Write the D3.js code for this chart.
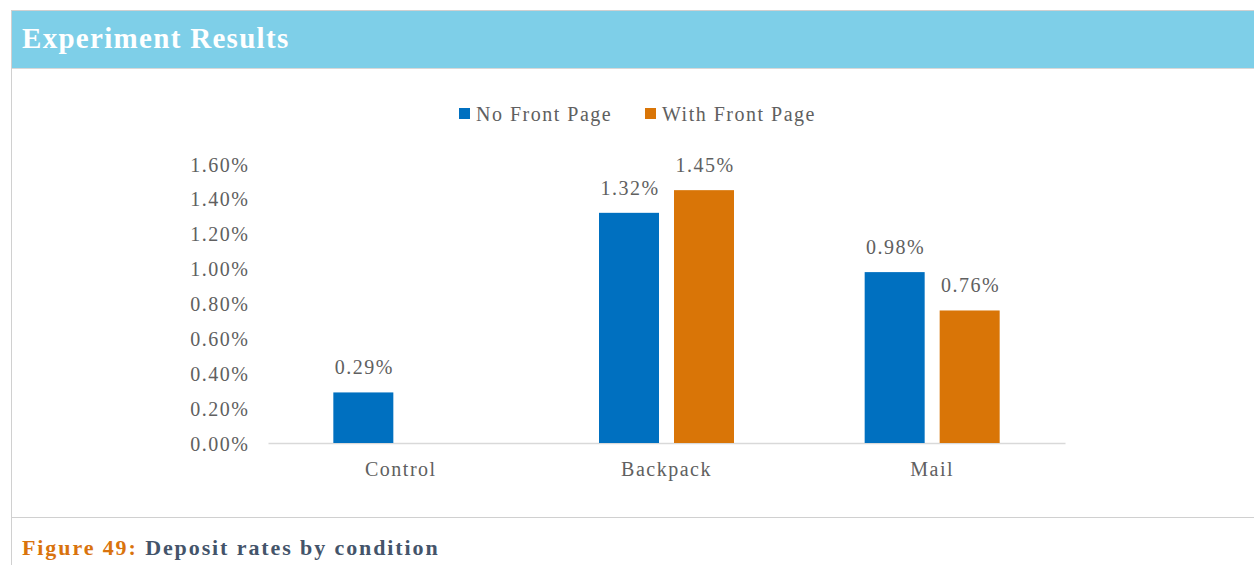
<!DOCTYPE html>
<html>
<head>
<meta charset="utf-8">
<script src="https://cdn.jsdelivr.net/npm/d3@7"></script>
<style>
  html, body { margin: 0; padding: 0; background: #fff; }
  svg { display: block; }
</style>
</head>
<body>
<svg id="chart" width="1254" height="565"></svg>
<script>
// Deposit rates (%) by condition and front-page variant
const categories = ["Control", "Backpack", "Mail"];
const seriesNames = ["No Front Page", "With Front Page"];
const noFrontPage = [0.29, 1.32, 0.98];
const withFrontPage = [null, 1.45, 0.76];
const yTicks = [0, 0.2, 0.4, 0.6, 0.8, 1.0, 1.2, 1.4, 1.6];
const colors = ["#0070c0", "#d97507"];

const svg = d3.select("#chart");
const W = 1254, H = 565;
const serif = "'Liberation Serif', 'DejaVu Serif', serif";
const textGray = "#606060";
const labelSize = 20, labelSpacing = 1.5;

// Panel frame: header band, left rule, bottom rule
svg.append("rect").attr("x", 11).attr("y", 10).attr("width", W - 11).attr("height", 58)
  .attr("fill", "#7ecfe8");
svg.append("line").attr("x1", 11).attr("x2", W).attr("y1", 10.5).attr("y2", 10.5)
  .attr("stroke", "#d0d0d0");
svg.append("line").attr("x1", 11).attr("x2", W).attr("y1", 68.5).attr("y2", 68.5)
  .attr("stroke", "#d8d8d8");
svg.append("line").attr("x1", 11.5).attr("x2", 11.5).attr("y1", 10).attr("y2", H)
  .attr("stroke", "#d0d0d0");
svg.append("line").attr("x1", 11).attr("x2", W).attr("y1", 517.5).attr("y2", 517.5)
  .attr("stroke", "#d0d0d0");

svg.append("text").attr("x", 22).attr("y", 48)
  .attr("font-family", serif).attr("font-size", 29).attr("font-weight", "bold")
  .attr("letter-spacing", 1.3)
  .attr("fill", "#ffffff").text("Experiment Results");

// Caption
const cap = svg.append("text").attr("x", 22).attr("y", 555)
  .attr("font-family", serif).attr("font-size", 22).attr("font-weight", "bold")
  .attr("letter-spacing", 1.9);
cap.append("tspan").attr("fill", "#d9730d").text("Figure 49: ");
cap.append("tspan").attr("fill", "#44546a").text("Deposit rates by condition");

// Scales
const x0 = d3.scaleBand().domain(categories).range([268, 1065]).padding(0);
const y = d3.scaleLinear().domain([0, 1.6]).range([443, 164]);
const barW = 60, gap = 15;
const groupW = barW * 2 + gap;

// Y axis labels (no axis line)
const yAxis = d3.axisLeft(y).tickValues(yTicks).tickSize(0).tickPadding(0)
  .tickFormat(d => d.toFixed(2) + "%");
const gy = svg.append("g").attr("transform", "translate(249.5,0)").call(yAxis);
gy.select(".domain").remove();
gy.selectAll("text").attr("font-family", serif).attr("font-size", labelSize)
  .attr("letter-spacing", labelSpacing).attr("fill", textGray).attr("dy", "0.35em");

// Baseline / category axis
const xAxis = d3.axisBottom(x0).tickSize(0).tickPadding(0);
const gx = svg.append("g").attr("transform", "translate(0,443)").call(xAxis);
gx.select(".domain").attr("stroke", "#d9d9d9").attr("stroke-width", 1.5);
gx.selectAll("text").attr("font-family", serif).attr("font-size", labelSize)
  .attr("letter-spacing", labelSpacing).attr("fill", textGray).attr("dy", "1.65em");

// Bars
const rows = [];
categories.forEach((c, i) => {
  [noFrontPage[i], withFrontPage[i]].forEach((v, s) => {
    if (v != null) rows.push({ cat: c, s, v });
  });
});

const barX = d => x0(d.cat) + (x0.bandwidth() - groupW) / 2 + d.s * (barW + gap);

svg.append("g").selectAll("rect").data(rows).join("rect")
  .attr("x", barX).attr("width", barW)
  .attr("y", d => y(d.v)).attr("height", d => y(0) - y(d.v))
  .attr("fill", d => colors[d.s]);

svg.append("g").selectAll("text").data(rows).join("text")
  .attr("x", d => barX(d) + barW / 2 + 1).attr("y", d => y(d.v) - 18)
  .attr("text-anchor", "middle").attr("font-family", serif).attr("font-size", labelSize)
  .attr("letter-spacing", labelSpacing).attr("fill", textGray).text(d => d.v.toFixed(2) + "%");

// Legend
const legendX = [459, 645];
const lg = svg.append("g").selectAll("g").data(seriesNames).join("g")
  .attr("transform", (d, i) => `translate(${legendX[i]},108)`);
lg.append("rect").attr("width", 11).attr("height", 11).attr("fill", (d, i) => colors[i]);
lg.append("text").attr("x", 17).attr("y", 6).attr("dy", "0.35em")
  .attr("font-family", serif).attr("font-size", labelSize).attr("letter-spacing", labelSpacing)
  .attr("fill", textGray).text(d => d);
</script>
</body>
</html>
